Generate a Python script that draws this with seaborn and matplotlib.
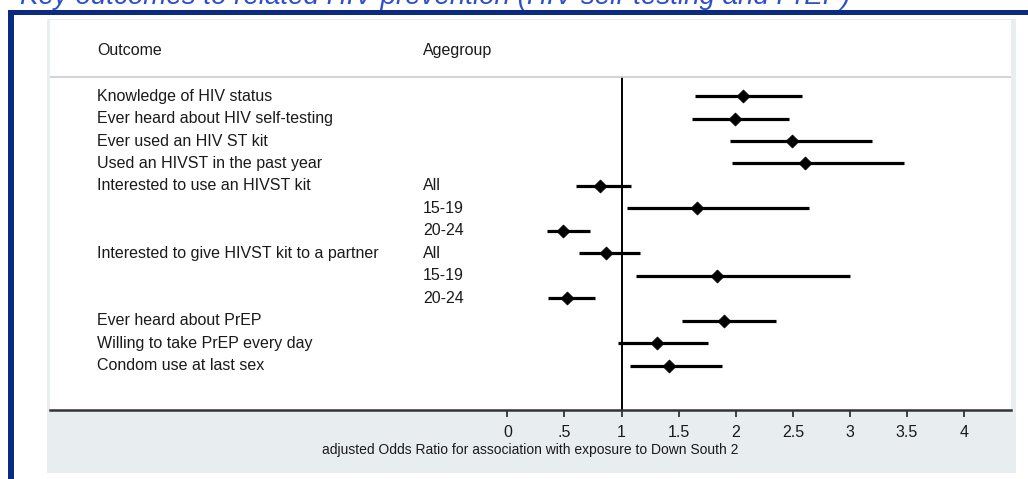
import pandas as pd
import seaborn as sns
import matplotlib.pyplot as plt
from matplotlib.patches import Rectangle
from matplotlib.transforms import blended_transform_factory

# ====================== DATA ======================
outcomes = [
    "Knowledge of HIV status",
    "Ever heard about HIV self-testing",
    "Ever used an HIV ST kit",
    "Used an HIVST in the past year",
    "Interested to use an HIVST kit",
    "",
    "",
    "Interested to give HIVST kit to a partner",
    "",
    "",
    "Ever heard about PrEP",
    "Willing to take PrEP every day",
    "Condom use at last sex",
]
agegroups = ["", "", "", "", "All", "15-19", "20-24", "All", "15-19", "20-24", "", "", ""]
aor = [2.06, 1.99, 2.49, 2.61, 0.81, 1.66, 0.49, 0.86, 1.84, 0.52, 1.90, 1.31, 1.42]
ci_low = [1.64, 1.62, 1.95, 1.97, 0.60, 1.05, 0.35, 0.63, 1.13, 0.36, 1.53, 0.97, 1.07]
ci_high = [2.58, 2.47, 3.19, 3.47, 1.08, 2.64, 0.72, 1.16, 3.00, 0.77, 2.35, 1.76, 1.88]

xticks = [0, 0.5, 1, 1.5, 2, 2.5, 3, 3.5, 4]
xtick_labels = ["0", ".5", "1", "1.5", "2", "2.5", "3", "3.5", "4"]
xlabel = "adjusted Odds Ratio for association with exposure to Down South 2"
title = "Key outcomes to related HIV prevention (HIV self-testing and PrEP)"

df = pd.DataFrame({"outcome": outcomes, "age": agegroups, "aor": aor,
                   "lo": ci_low, "hi": ci_high})
df["row"] = range(len(df))

# ====================== STYLE ======================
sns.set_style("white")
plt.rcParams["font.family"] = ["Liberation Sans", "DejaVu Sans"]

W, H = 1028, 479
NAVY = "#0b2b82"
PANEL = "#e8eef0"
TXT = "#1a1a1a"


def fbox(x0, y0, x1, y1):
    # pixel box (top-left origin) -> figure fraction rectangle
    return (x0 / W, 1 - y1 / H), (x1 - x0) / W, (y1 - y0) / H


fig = plt.figure(figsize=(W / 100, H / 100), dpi=100)
fig.patch.set_facecolor("white")

# panel background + frame
for box, col in [((47, 19, 1016, 473), PANEL), ((50, 20, 1011, 410), "white")]:
    xy, w, h = fbox(*box)
    fig.add_artist(Rectangle(xy, w, h, transform=fig.transFigure,
                             facecolor=col, edgecolor="none", zorder=0))
for box in [(8, 10, 1028, 15), (8, 10, 14, 479)]:
    xy, w, h = fbox(*box)
    fig.add_artist(Rectangle(xy, w, h, transform=fig.transFigure,
                             facecolor=NAVY, edgecolor="none", zorder=5))

# title is cropped at the top edge, as in the source screenshot
fig.text(20 / W, 1 - 4 / H, title, fontsize=20, style="italic",
         color="#2e4fc9", va="baseline", ha="left")

ax = fig.add_axes([50 / W, 1 - 410 / H, 961 / W, 390 / H])
ax.set_facecolor("white")
ax.patch.set_alpha(0)

# ====================== FOREST PLOT ======================
sep_y = -0.84
ax.hlines(df["row"], df["lo"], df["hi"], color="black", lw=2.3, zorder=2)
sns.scatterplot(data=df, x="aor", y="row", marker="D", s=44, color="black",
                edgecolor="black", linewidth=0.5, legend=False, ax=ax, zorder=3)
ax.vlines(1, sep_y, 13.96, color="black", lw=1.4, zorder=1)
ax.axhline(sep_y, color="#c9cccd", lw=1.2, zorder=1)

ax.set_xlim(-4.004, 4.41)
ax.set_ylim(13.96, -3.38)
ax.set_yticks([])
ax.set_xticks(xticks)
ax.set_xticklabels(xtick_labels)
ax.tick_params(axis="x", direction="out", length=5, width=1.3, color="#333333",
               labelsize=11.5, pad=6, bottom=True, labelcolor=TXT)
ax.set_xlabel(xlabel, fontsize=10, labelpad=2, color=TXT)
ax.set_ylabel("")
for side in ["top", "left", "right"]:
    ax.spines[side].set_visible(False)
ax.spines["bottom"].set_color("#333333")
ax.spines["bottom"].set_linewidth(1.8)

tr = blended_transform_factory(ax.transAxes, ax.transData)
x_out = (97 - 50) / 961
x_age = (423 - 50) / 961
ax.text(x_out, -2.04, "Outcome", transform=tr, fontsize=11.5, va="center", color=TXT)
ax.text(x_age, -2.04, "Agegroup", transform=tr, fontsize=11.5, va="center", color=TXT)
for _, r in df.iterrows():
    if r["outcome"]:
        ax.text(x_out, r["row"], r["outcome"], transform=tr, fontsize=11.5,
                va="center", color=TXT)
    if r["age"]:
        ax.text(x_age, r["row"], r["age"], transform=tr, fontsize=11.5,
                va="center", color=TXT)

plt.savefig("out.png", dpi=100)
